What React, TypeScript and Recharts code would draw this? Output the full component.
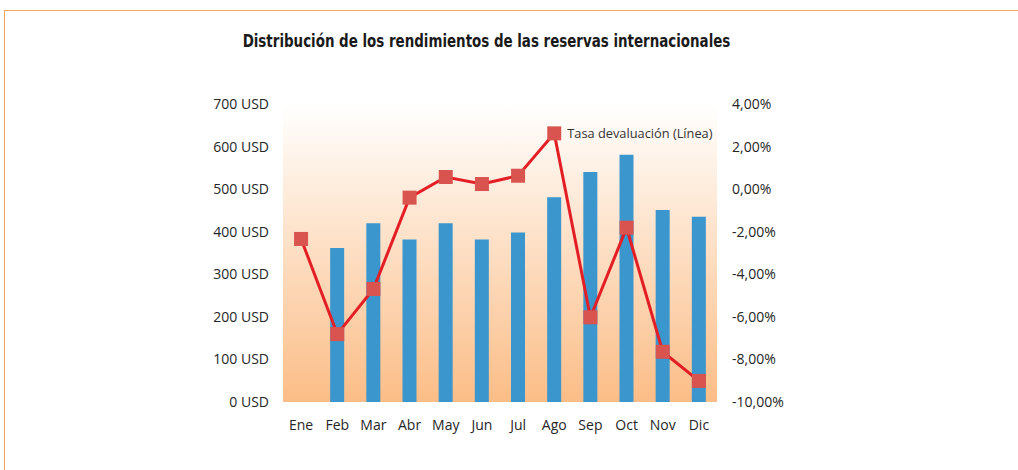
import React from 'react';
import { ComposedChart, Bar, Line, XAxis, YAxis, CartesianGrid, LabelList } from 'recharts';

const months = ['Ene', 'Feb', 'Mar', 'Abr', 'May', 'Jun', 'Jul', 'Ago', 'Sep', 'Oct', 'Nov', 'Dic'];
const rendimientos: (number | null)[] = [null, 362, 420, 382, 420, 382, 398, 481, 540, 581, 451, 435];
const devaluacion = [-2.34, -6.81, -4.69, -0.4, 0.57, 0.24, 0.63, 2.62, -6.02, -1.81, -7.64, -9.01];
const usdTicks = [0, 100, 200, 300, 400, 500, 600, 700];
const pctTicks = [-10, -8, -6, -4, -2, 0, 2, 4];
const title = 'Distribución de los rendimientos de las reservas internacionales';
const lineLabel = 'Tasa devaluación (Línea)';
const lineLabelIndex = 7;

const data = months.map((m, i) => ({ mes: m, rend: rendimientos[i], dev: devaluacion[i] }));

const FONT = '"Open Sans", sans-serif';

const SquareDot = (props: any) => {
  const { cx, cy, index } = props;
  if (cx == null || cy == null) return <g key={`d${index}`} />;
  return <rect key={`d${index}`} x={cx - 7} y={cy - 7} width={14} height={14} fill="#D9534F" />;
};

const LineLabel = (props: any) => {
  const { x, y, index } = props;
  if (index !== lineLabelIndex) return null;
  return (
    <text x={x + 13} y={y} dy="0.35em" fontFamily={FONT} fontSize={12.8} fill="#333333">
      {lineLabel}
    </text>
  );
};

export default function App() {
  return (
    <div style={{ position: 'absolute', left: 0, top: 0, width: 1018, height: 470, background: '#fff', overflow: 'hidden' }}>
      <div style={{ position: 'absolute', left: 4, top: 10, width: 1014, height: 460, borderLeft: '1.5px solid #F5A55E', borderTop: '1.5px solid #F5A55E' }} />
      <div
        style={{
          position: 'absolute',
          left: 0,
          width: 973,
          top: 31,
          textAlign: 'center',
          fontFamily: '"DejaVu Sans Condensed", sans-serif',
          fontWeight: 'bold',
          fontSize: 17,
          color: '#1a1a1a',
          transform: 'scaleX(0.877)',
          transformOrigin: '486.5px 50%',
          whiteSpace: 'nowrap',
        }}
      >
        {title}
      </div>
      <div style={{ position: 'absolute', left: 0, top: 0 }}>
        <ComposedChart width={1018} height={470} data={data} margin={{ top: 104, right: 221, bottom: 38, left: 203 }}>
          <defs>
            <linearGradient id="bgGrad" x1="0" y1="0" x2="0" y2="1">
              <stop offset="0%" stopColor="#FFFFFF" />
              <stop offset="100%" stopColor="#FBBD87" />
            </linearGradient>
          </defs>
          <CartesianGrid horizontal={false} vertical={false} fill="url(#bgGrad)" stroke="none" />
          <XAxis
            dataKey="mes"
            axisLine={false}
            tickLine={false}
            tickSize={0}
            tickMargin={18}
            height={30}
            tick={{ fontFamily: FONT, fontSize: 14, fill: '#262626' }}
            interval={0}
          />
          <YAxis
            yAxisId="usd"
            orientation="left"
            width={80}
            domain={[0, 700]}
            ticks={usdTicks}
            axisLine={false}
            tickLine={false}
            tickSize={0}
            tickMargin={14}
            tickFormatter={(v: number) => `${v} USD`}
            tick={{ fontFamily: FONT, fontSize: 14, fill: '#262626' }}
          />
          <YAxis
            yAxisId="pct"
            orientation="right"
            width={80}
            domain={[-10, 4]}
            ticks={pctTicks}
            axisLine={false}
            tickLine={false}
            tickSize={0}
            tickMargin={15}
            tickFormatter={(v: number) => `${v.toFixed(2).replace('.', ',')}%`}
            tick={{ fontFamily: FONT, fontSize: 14, fill: '#262626', textAnchor: 'start' }}
          />
          <Bar yAxisId="usd" dataKey="rend" fill="#3A96CC" barSize={14} isAnimationActive={false} />
          <Line
            yAxisId="pct"
            dataKey="dev"
            stroke="#E31E24"
            strokeWidth={3}
            dot={SquareDot}
            activeDot={false}
            isAnimationActive={false}
          >
            <LabelList dataKey="dev" content={LineLabel} />
          </Line>
        </ComposedChart>
      </div>
    </div>
  );
}
